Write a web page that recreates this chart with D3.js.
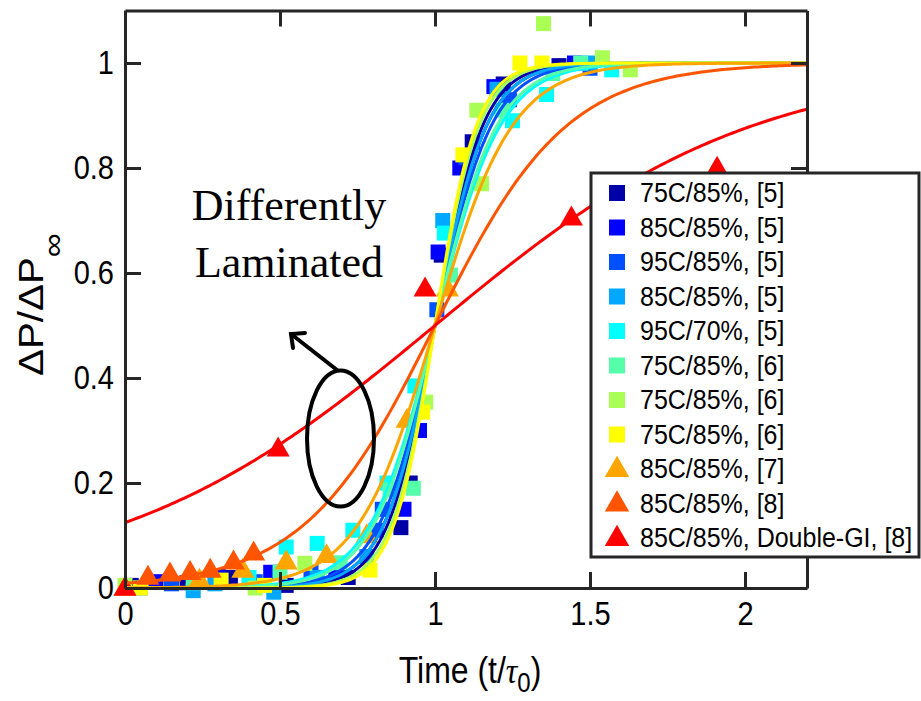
<!DOCTYPE html>
<html>
<head>
<meta charset="utf-8">
<script src="https://cdn.jsdelivr.net/npm/d3@7/dist/d3.min.js"></script>
<style>
  html, body { margin: 0; padding: 0; background: #fff; }
  svg { display: block; }
  text { font-family: "Liberation Sans", Arial, Helvetica, sans-serif; fill: #000; }
</style>
</head>
<body>
<svg id="chart" width="921" height="701"></svg>
<script>
// ---- data: normalised pressure change vs. normalised time ----
const seriesLabels = [
  "75C/85%, [5]", "85C/85%, [5]", "95C/85%, [5]", "85C/85%, [5]", "95C/70%, [5]",
  "75C/85%, [6]", "75C/85%, [6]", "75C/85%, [6]",
  "85C/85%, [7]", "85C/85%, [8]", "85C/85%, Double-GI, [8]"
];
const seriesColors = [
  "#0000a8", "#0000ff", "#0050ff", "#00a8ff", "#00ffff",
  "#55ffaa", "#aaff55", "#ffff00",
  "#ffa500", "#ff5500", "#ff0000"
];
const seriesShapes = ["square", "square", "square", "square", "square",
  "square", "square", "square", "triangle", "triangle", "triangle"];

// measured points [t/tau0, dP/dPinf]
const pts75c85_5 = [[0.02,0.005],[0.2,0.01],[0.34,0.02],[0.52,0.005],[0.72,0.02],[0.89,0.115],[0.92,0.2],[1.02,0.634],[1.12,0.85],[1.22,0.96],[1.4,0.995]];
const pts85c85_5 = [[0.1,0.012],[0.3,0.022],[0.47,0.03],[0.68,0.025],[0.9,0.15],[0.95,0.3],[1.01,0.64],[1.08,0.8],[1.19,0.955],[1.45,1.0]];
const pts95c85_5 = [[0.15,0.008],[0.42,0.012],[0.6,0.03],[0.81,0.11],[0.83,0.15],[1.006,0.53],[1.1,0.82],[1.24,0.93],[1.5,0.99]];
const pts85c85b_5 = [[0.05,0.0],[0.22,-0.005],[0.29,0.008],[0.48,-0.008],[0.62,0.02],[0.78,0.06],[1.025,0.7],[1.2,0.95],[1.5,1.0]];
const pts95c70_5 = [[0.4,0.02],[0.52,0.078],[0.62,0.085],[0.735,0.11],[0.845,0.2],[0.935,0.385],[1.03,0.676],[1.25,0.89],[1.36,0.94],[1.57,0.987]];
const pts75c85a_6 = [[0.22,0.01],[0.5,0.03],[0.694,0.048],[0.855,0.187],[0.93,0.19],[1.05,0.596],[1.216,0.91],[1.38,0.98],[1.47,1.0]];
const pts75c85b_6 = [[0.0,0.005],[0.42,0.0],[0.58,0.047],[0.97,0.354],[1.135,0.91],[1.15,0.77],[1.35,1.075],[1.54,1.01],[1.63,0.987]];
const pts75c85c_6 = [[0.05,0.0],[0.31,0.015],[0.45,0.005],[0.79,0.034],[0.96,0.335],[1.09,0.825],[1.274,1.0],[1.345,1.0]];
const pts85c85_7 = [[0.0,0.0],[0.24,0.015],[0.38,0.034],[0.52,0.05],[0.65,0.062],[0.78,0.1],[0.91,0.32],[1.04,0.57]];
const pts85c85_8 = [[0.074,0.021],[0.145,0.027],[0.21,0.03],[0.275,0.034],[0.35,0.05],[0.415,0.067]];
const pts85c85gl_8 = [[0.0,0.0],[0.494,0.265],[0.968,0.57],[1.44,0.705],[1.91,0.8]];

const seriesPoints = [pts75c85_5, pts85c85_5, pts95c85_5, pts85c85b_5, pts95c70_5,
  pts75c85a_6, pts75c85b_6, pts75c85c_6, pts85c85_7, pts85c85_8, pts85c85gl_8];

// fitted logistic steepness for each series, centred at t/tau0 = 1
const fitSteepness = [13, 12, 11, 12, 9.5, 10, 14, 15, 8, 4.7, 1.95];

const xTicks = [0, 0.5, 1, 1.5, 2];
const yTicks = [0, 0.2, 0.4, 0.6, 0.8, 1];

// ---- layout ----
const svg = d3.select("#chart");
const plot = { left: 125, right: 807, top: 10.5, bottom: 588 };
const x = d3.scaleLinear().domain([0, 2.2]).range([plot.left, plot.right]);
const y = d3.scaleLinear().domain([0, 1.1]).range([plot.bottom, plot.top]);
const axisColor = "#262626";
const textStretch = 1.13;

// ---- markers ----
const marks = svg.append("g");
seriesPoints.forEach((pts, i) => {
  const g = marks.append("g");
  if (seriesShapes[i] === "square") {
    g.selectAll("rect").data(pts).join("rect")
      .attr("x", d => x(d[0]) - 7.5).attr("y", d => y(d[1]) - 7.5)
      .attr("width", 15).attr("height", 15)
      .attr("fill", seriesColors[i]);
  } else {
    const tri = d3.symbol().type(d3.symbolTriangle).size(230);
    g.selectAll("path").data(pts).join("path")
      .attr("d", tri)
      .attr("transform", d => `translate(${x(d[0])},${y(d[1]) + 1})`)
      .attr("fill", seriesColors[i]);
  }
});

// ---- fitted curves ----
const tGrid = d3.range(0, 2.2001, 0.01);
const line = d3.line().x(d => x(d[0])).y(d => y(d[1]));
const curves = svg.append("g").attr("fill", "none").attr("stroke-width", 3);
fitSteepness.forEach((k, i) => {
  const fit = tGrid.map(t => [t, 1 / (1 + Math.exp(-k * (t - 1)))]);
  curves.append("path").attr("d", line(fit)).attr("stroke", seriesColors[i]);
});

// ---- axes (box with inward ticks) ----
function styleAxis(g) {
  g.selectAll("path.domain").attr("stroke", axisColor).attr("stroke-width", 3);
  g.selectAll(".tick line").attr("stroke", axisColor).attr("stroke-width", 3);
  g.selectAll(".tick text").attr("fill", "#000")
    .style("font-family", '"Liberation Sans", Arial, sans-serif');
}
const tickLen = 16;
svg.append("g").attr("transform", `translate(0,${plot.bottom})`)
  .call(d3.axisBottom(x).tickValues(xTicks).tickFormat(d3.format("~g"))
    .tickSize(-tickLen).tickSizeOuter(0).tickPadding(12))
  .call(styleAxis)
  .call(g => g.selectAll(".tick text").attr("font-size", 29)
    .attr("transform", `scale(1,${textStretch})`));
svg.append("g").attr("transform", `translate(${plot.left},0)`)
  .call(d3.axisLeft(y).tickValues(yTicks).tickFormat(d3.format("~g"))
    .tickSize(-tickLen).tickSizeOuter(0).tickPadding(11))
  .call(styleAxis)
  .call(g => g.selectAll(".tick text").attr("font-size", 29)
    .attr("transform", `scale(1,${textStretch})`));
svg.append("g").attr("transform", `translate(0,${plot.top})`)
  .call(d3.axisTop(x).tickValues(xTicks).tickFormat("").tickSize(-tickLen).tickSizeOuter(0))
  .call(styleAxis);
svg.append("g").attr("transform", `translate(${plot.right},0)`)
  .call(d3.axisRight(y).tickValues(yTicks).tickFormat("").tickSize(-tickLen).tickSizeOuter(0))
  .call(styleAxis);

// ---- axis titles ----
const xTitle = svg.append("text")
  .attr("transform", `translate(470,683) scale(1,${textStretch})`)
  .attr("text-anchor", "middle").attr("font-size", 32);
xTitle.append("tspan").text("Time (t/");
xTitle.append("tspan").text("τ").attr("font-style", "italic")
  .style("font-family", '"Liberation Serif", "Times New Roman", serif');
xTitle.append("tspan").text("0").attr("font-size", 24).attr("dy", 8);
xTitle.append("tspan").text(")").attr("dy", -8);

const yTitle = svg.append("text")
  .attr("transform", `translate(43,376) rotate(-90) scale(1.12,1)`)
  .attr("text-anchor", "start").attr("font-size", 36);
yTitle.append("tspan").text("ΔP/ΔP");
yTitle.append("tspan").text("∞").attr("font-size", 30).attr("dy", 20);

// ---- annotation ----
svg.append("text").attr("x", 289).attr("y", 220).attr("text-anchor", "middle")
  .attr("font-size", 44).style("font-family", '"Liberation Serif", "Times New Roman", serif')
  .text("Differently");
svg.append("text").attr("x", 289).attr("y", 277).attr("text-anchor", "middle")
  .attr("font-size", 44).style("font-family", '"Liberation Serif", "Times New Roman", serif')
  .text("Laminated");
svg.append("ellipse").attr("cx", 340.5).attr("cy", 438.5).attr("rx", 33.5).attr("ry", 68)
  .attr("fill", "none").attr("stroke", "#000").attr("stroke-width", 4);
const arrow = svg.append("g").attr("stroke", "#000").attr("stroke-width", 4)
  .attr("fill", "none").attr("stroke-linecap", "round");
arrow.append("line").attr("x1", 337).attr("y1", 370).attr("x2", 291).attr("y2", 334);
arrow.append("polyline").attr("points", "293,348 291,334 305,333");

// ---- legend ----
const legend = svg.append("g");
legend.append("rect").attr("x", 591).attr("y", 173).attr("width", 328).attr("height", 384)
  .attr("fill", "#fff").attr("stroke", axisColor).attr("stroke-width", 3);
seriesLabels.forEach((label, i) => {
  const cy = 193 + i * 34.5;
  if (seriesShapes[i] === "square") {
    legend.append("rect").attr("x", 609).attr("y", cy - 8).attr("width", 16).attr("height", 16)
      .attr("fill", seriesColors[i]);
  } else {
    legend.append("path").attr("d", d3.symbol().type(d3.symbolTriangle).size(260))
      .attr("transform", `translate(617,${cy + 1})`).attr("fill", seriesColors[i]);
  }
  legend.append("text").attr("transform", `translate(640,${cy + 9}) scale(1,${textStretch})`)
    .attr("font-size", 25).text(label);
});
</script>
</body>
</html>
